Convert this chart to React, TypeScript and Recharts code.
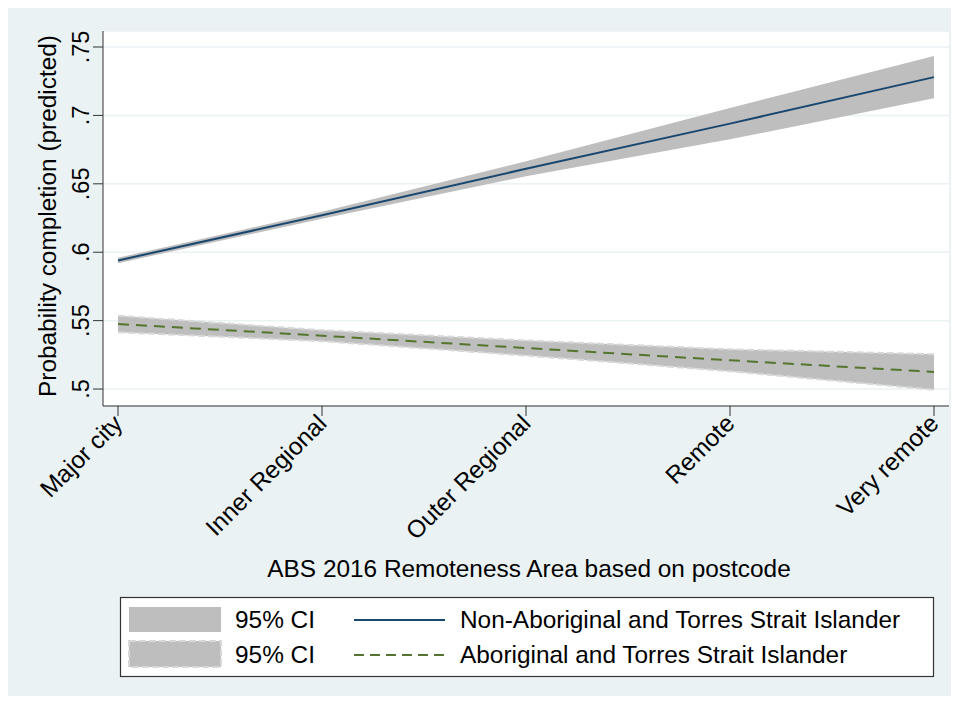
import React from 'react';
import { ComposedChart, Area, Line, XAxis, YAxis, CartesianGrid } from 'recharts';

const categories = ['Major city', 'Inner Regional', 'Outer Regional', 'Remote', 'Very remote'];
const nonAbMean = [0.594, 0.627, 0.661, 0.694, 0.728];
const nonAbLow = [0.592, 0.6245, 0.6555, 0.6825, 0.7125];
const nonAbHigh = [0.596, 0.6295, 0.6665, 0.7055, 0.7435];
const abMean = [0.5475, 0.539, 0.53, 0.521, 0.5125];
const abLow = [0.5415, 0.535, 0.5245, 0.513, 0.4995];
const abHigh = [0.5535, 0.543, 0.5355, 0.529, 0.5255];
const yTicks = [0.5, 0.55, 0.6, 0.65, 0.7, 0.75];

const xTitle = 'ABS 2016 Remoteness Area based on postcode';
const yTitle = 'Probability completion (predicted)';
const ciLabel = '95% CI';
const nonAbLabel = 'Non-Aboriginal and Torres Strait Islander';
const abLabel = 'Aboriginal and Torres Strait Islander';

const data = categories.map((c, i) => ({
  cat: c,
  nonAb: nonAbMean[i],
  nonAbCI: [nonAbLow[i], nonAbHigh[i]],
  ab: abMean[i],
  abCI: [abLow[i], abHigh[i]],
}));

const FONT = '"Liberation Sans", Arial, Helvetica, sans-serif';
const BG = '#EAF2F3';
const NAVY = '#1a476f';
const GREEN = '#55752f';
const BAND = '#bebebe';
const FS = 24.4;

const fmt = (v: number) => String(v).replace(/^0/, '');

const YTick = (props: any) => {
  const { x, y, payload } = props;
  const tx = x - 2;
  return (
    <text x={tx} y={y} transform={`rotate(-90 ${tx} ${y})`} textAnchor="middle" fontSize={23.5} fill="#000" fontFamily={FONT}>
      {fmt(payload.value)}
    </text>
  );
};

const XTick = (props: any) => {
  const { x, y, payload } = props;
  const tx = x + 6;
  const ty = y + 7;
  return (
    <text x={tx} y={ty} transform={`rotate(-45 ${tx} ${ty})`} textAnchor="end" fontSize={FS} fill="#000" fontFamily={FONT}>
      {payload.value}
    </text>
  );
};

export default function App() {
  return (
    <div style={{ position: 'relative', width: 945, height: 689, marginTop: -1, background: BG }}>
      <ComposedChart width={945} height={689} data={data} margin={{ top: 24, right: 4, left: 0, bottom: 0 }} style={{ background: BG }}>
        <CartesianGrid vertical={false} stroke={BG} strokeWidth={1.5} fill="#ffffff" fillOpacity={1} />
        <XAxis
          dataKey="cat"
          scale="point"
          padding={{ left: 15, right: 15 }}
          height={290}
          tickSize={10}
          interval={0}
          axisLine={{ stroke: '#333' }}
          tickLine={{ stroke: '#333' }}
          tick={<XTick />}
          label={{
            value: xTitle,
            content: () => (
              <text x={521} y={570} textAnchor="middle" fontSize={FS} fill="#000" fontFamily={FONT}>
                {xTitle}
              </text>
            ),
          }}
        />
        <YAxis
          type="number"
          domain={[0.4876, 0.7617]}
          ticks={yTicks}
          allowDataOverflow
          width={95}
          tickSize={10}
          axisLine={{ stroke: '#333' }}
          tickLine={{ stroke: '#333' }}
          tick={<YTick />}
          label={{
            value: yTitle,
            content: () => (
              <text x={48} y={209} transform="rotate(-90 48 209)" textAnchor="middle" fontSize={FS} fill="#000" fontFamily={FONT}>
                {yTitle}
              </text>
            ),
          }}
        />
        <Area dataKey="nonAbCI" type="linear" fill={BAND} fillOpacity={1} stroke="none" isAnimationActive={false} />
        <Area dataKey="abCI" type="linear" fill={BAND} fillOpacity={1} stroke="#d8d8d8" strokeWidth={2} strokeDasharray="7 3" isAnimationActive={false} />
        <Line dataKey="nonAb" type="linear" stroke={NAVY} strokeWidth={2} dot={false} isAnimationActive={false} />
        <Line dataKey="ab" type="linear" stroke={GREEN} strokeWidth={2} strokeDasharray="11 7" dot={false} isAnimationActive={false} />
      </ComposedChart>
      <svg width={945} height={689} style={{ position: 'absolute', left: 0, top: 0, pointerEvents: 'none' }}>
        <rect x={112.5} y={590.5} width={813} height={79} fill="#fff" stroke="#333" strokeWidth={1.2} />
        <rect x={121} y={600} width={92} height={25} fill={BAND} />
        <rect x={121} y={634} width={92} height={26} fill={BAND} stroke="#d8d8d8" strokeWidth={2} strokeDasharray="7 3" />
        <text x={227} y={621} fontSize={FS} fill="#000" fontFamily={FONT}>{ciLabel}</text>
        <text x={227} y={656} fontSize={FS} fill="#000" fontFamily={FONT}>{ciLabel}</text>
        <line x1={346} x2={437} y1={613} y2={613} stroke={NAVY} strokeWidth={2} />
        <line x1={346} x2={437} y1={648} y2={648} stroke={GREEN} strokeWidth={2} strokeDasharray="10 6" />
        <text x={452} y={621} fontSize={FS} fill="#000" fontFamily={FONT}>{nonAbLabel}</text>
        <text x={452} y={656} fontSize={FS} fill="#000" fontFamily={FONT}>{abLabel}</text>
      </svg>
    </div>
  );
}
